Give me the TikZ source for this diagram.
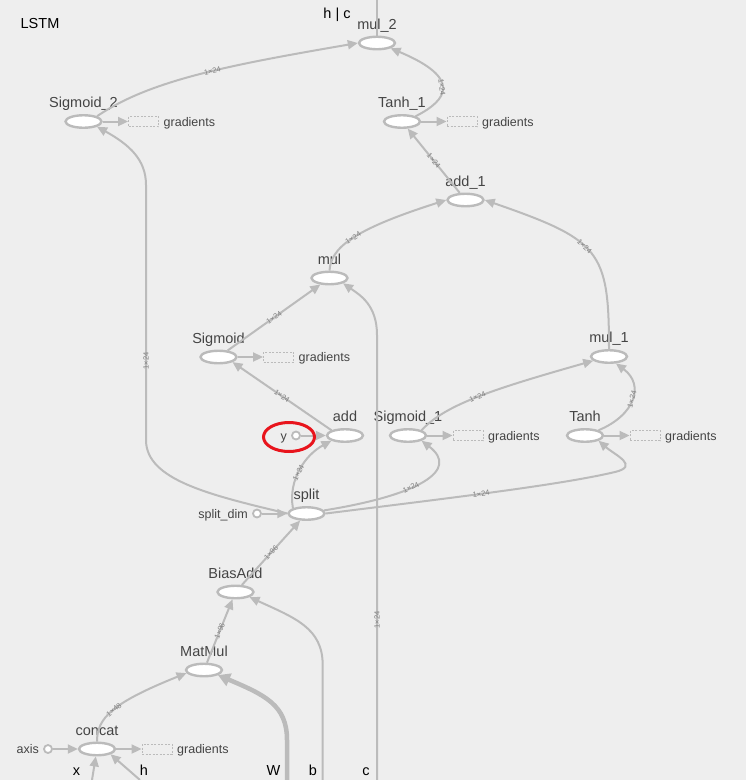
\documentclass[tikz,border=0pt]{standalone}
\usepackage{fontspec}
\setmainfont{Liberation Sans}
\usetikzlibrary{shapes.geometric,arrows.meta}
\definecolor{bg}{HTML}{EEEEEE}
\definecolor{eg}{HTML}{BBBBBB}
\definecolor{tg}{HTML}{444444}
\definecolor{lg}{HTML}{808080}
\definecolor{rd}{HTML}{E8141C}
\tikzset{
  op/.style={ellipse, draw=eg, line width=2.4pt, fill=white, minimum width=36pt, minimum height=12.5pt, inner sep=0pt},
  cst/.style={circle, draw=eg, line width=1.8pt, fill=white, minimum size=8pt, inner sep=0pt},
  gbox/.style={draw=eg, dash pattern=on 2pt off 1.5pt, line width=0.9pt, minimum width=30pt, minimum height=10pt, inner sep=0pt},
  nlab/.style={font=\fontsize{14.5}{15}\selectfont, text=tg, inner sep=0pt, anchor=base},
  glab/.style={font=\fontsize{12.5}{13}\selectfont, text=tg, inner sep=0pt, anchor=base west},
  clab/.style={font=\fontsize{12.5}{13}\selectfont, text=tg, inner sep=0pt, anchor=base east},
  io/.style={font=\fontsize{14.5}{15}\selectfont, text=black, inner sep=0pt, anchor=base},
  edge/.style={draw=eg, line width=2pt, -{Triangle[length=10pt,width=9pt]}},
  plain/.style={draw=eg, line width=2pt},
  thick edge/.style={draw=eg, line width=4.5pt, -{Triangle[length=12pt,width=13pt]}},
  elab/.style={font=\fontsize{7.5}{8}\selectfont, text=lg, sloped, inner sep=0pt},
}
\begin{document}
\begin{tikzpicture}[x=1pt,y=-1pt]
\fill[bg] (0,0) rectangle (746,780);
\useasboundingbox (0,0) rectangle (746,780);

% ---- op nodes
\node[op] (mul2) at (377,43) {};
\node[op] (s2) at (83.5,121.5) {};
\node[op] (t1) at (402,121.5) {};
\node[op] (add1) at (465.5,200) {};
\node[op] (mul) at (329.5,278) {};
\node[op] (sig) at (218.5,357) {};
\node[op] (mul1) at (609,356.5) {};
\node[op] (add) at (345,435.5) {};
\node[op] (sig1) at (408,435.5) {};
\node[op] (tanh) at (585,435.5) {};
\node[op] (split) at (306.5,513.5) {};
\node[op] (ba) at (235.5,592) {};
\node[op] (mm) at (204,670) {};
\node[op] (concat) at (97,749) {};

% ---- op labels
\node[nlab] (mul2l) at (377,29.5) {mul\_2};
\node[nlab] (s2l) at (83.5,107.5) {Sigmoid\_2};
\node[nlab] (t1l) at (402,107.5) {Tanh\_1};
\node[nlab] (add1l) at (465.5,186) {add\_1};
\node[nlab] (mull) at (329.5,264) {mul};
\node[nlab] (sigl) at (218.5,343) {Sigmoid};
\node[nlab] (mul1l) at (609,342.5) {mul\_1};
\node[nlab] (addl) at (345,421.5) {add};
\node[nlab] (sig1l) at (408,421.5) {Sigmoid\_1};
\node[nlab] (tanhl) at (585,421.5) {Tanh};
\node[nlab] (splitl) at (306.5,499.5) {split};
\node[nlab] (bal) at (235.5,578) {BiasAdd};
\node[nlab] (mml) at (204,656) {MatMul};
\node[nlab] (concatl) at (97,735) {concat};

% ---- gradients boxes
\foreach \n/\x/\y in {s2/83.5/121.5, t1/402/121.5, sig/218.5/357, sig1/408/435.5, tanh/585/435.5, concat/97/749}{
  \node[gbox] (\n g) at (\x+60,\y) {};
  \node[glab] (\n gl) at (\x+80,\y+4.5) {gradients};
  \draw[edge] (\n.east) -- (\n g.west);
}

% ---- constants
\node[cst] (y) at (296,435.5) {};
\node[clab] (yl) at (287,440) {y};
\node[cst] (sdim) at (257,513.5) {};
\node[clab] (sdiml) at (248,518) {split\_dim};
\node[cst] (axis) at (48,749) {};
\node[clab] (axisl) at (39,753.5) {axis};
\draw[edge] (y) -- (add.west);
\draw[edge] (sdim) -- (split.west);
\draw[edge] (axis) -- (concat.west);

% ---- red ring
\node[ellipse, draw=rd, line width=3pt, minimum width=51pt, minimum height=29pt, inner sep=0pt] (ring) at (289,437) {};

% ---- inputs / outputs
\coordinate (topout) at (377,0);
\coordinate (xin) at (92,780);
\coordinate (hin) at (140,780);
\coordinate (win) at (287,780);
\coordinate (bin) at (322.7,780);
\coordinate (cin) at (377,780);
\node[io] (lstm) at (40,28) {LSTM};
\node[io] (hc) at (337,18) {h | c};
\node[io] (xl) at (76.5,775) {x};
\node[io] (hl) at (144,775) {h};
\node[io] (wl) at (273.5,775) {W};
\node[io] (bl) at (313,775) {b};
\node[io] (cl) at (366,775) {c};

% ---- edges
\draw[plain] (mul2.north) -- (topout);
\draw[edge] (s2.north east) .. controls (150,80) and (230,65) .. node[elab,pos=0.55]{1×24} (mul2.west);
\draw[edge] (t1.north east) .. controls (448,100) and (462,78) .. node[elab,pos=0.5]{1×24} (mul2.south east);
\draw[edge] (add1) -- node[elab]{1×24} (t1);
\draw[edge] (mul.north) .. controls (331,248) and (352,230) .. node[elab,pos=0.5]{1×24} (add1.west);
\draw[edge] (mul1.north) .. controls (609,250) and (600,240) .. node[elab,pos=0.55]{1×24} (add1.east);
\draw[edge] (sig) -- node[elab]{1×24} (mul);
\draw[edge] (cin) -- node[elab,pos=0.36]{1×24} (377,335) .. controls (377,305) and (360,295) .. (mul.south east);
\draw[edge] (add.north west) -- node[elab]{1×24} (sig.-20);
\draw[edge] (split.north west) .. controls (288,480) and (305,455) .. node[elab,pos=0.45]{1×24} (add.south west);
\draw[edge] (split.10) .. controls (420,495) and (460,470) .. node[elab,pos=0.4]{1×24} (sig1.south east);
\draw[edge] (split.east) .. controls (450,498) and (560,485) .. node[elab,pos=0.45]{1×24} (615,472) .. controls (640,466) and (615,455) .. (tanh.south east);
\draw[edge] (split.west) .. controls (210,495) and (146,480) .. (146,440) -- node[elab,pos=0.31]{1×24} (146,185) .. controls (146,160) and (130,145) .. (s2.south east);
\draw[edge] (sig1.north east) .. controls (445,405) and (490,390) .. node[elab,pos=0.5]{1×24} (mul1.195);
\draw[edge] (tanh.north east) .. controls (635,415) and (645,385) .. node[elab,pos=0.5]{1×24} (mul1.-45);
\draw[edge] (ba) -- node[elab]{1×96} (split);
\draw[edge] (mm) -- node[elab]{1×96} (ba);
\draw[edge] (bin) -- (322.7,665) .. controls (322.7,628) and (295,618) .. (ba.-20);
\draw[thick edge] (win) -- (287,740) .. controls (287,705) and (265,695) .. (mm.-20);
\draw[edge] (concat.north) .. controls (97,718) and (112,703) .. node[elab,pos=0.5]{1×48} (mm.190);
\draw[edge] (xin) -- (concat);
\draw[edge] (hin) -- (concat.south east);
\end{tikzpicture}
\end{document}
